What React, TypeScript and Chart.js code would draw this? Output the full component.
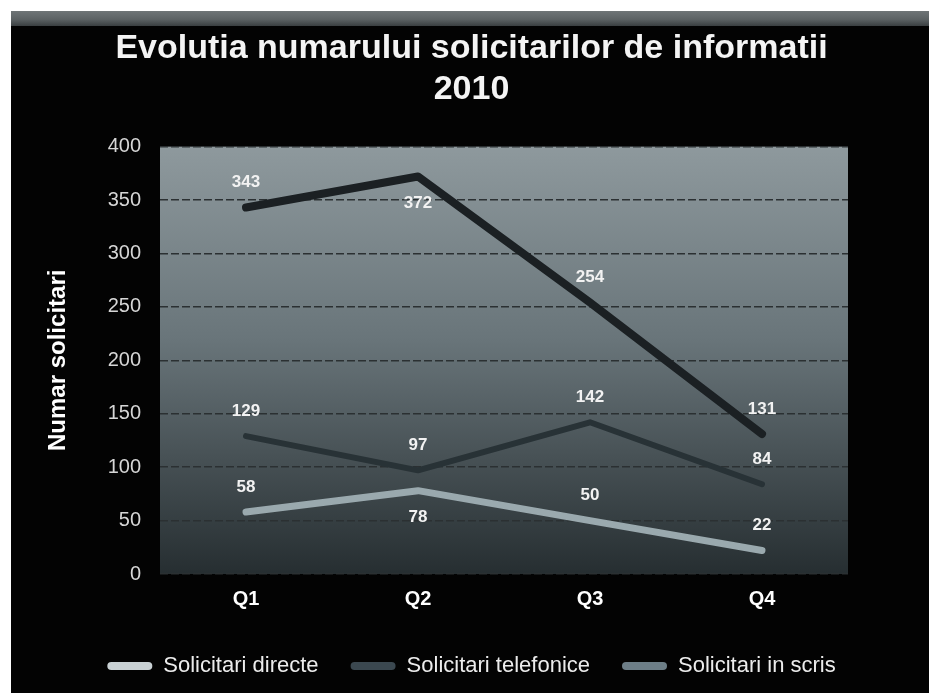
import React, { useEffect, useRef } from 'react';
import { Chart, registerables } from 'chart.js';

Chart.register(...registerables);

const FAMILY = '"Liberation Sans", Arial, Helvetica, sans-serif';

const categories = ['Q1', 'Q2', 'Q3', 'Q4'];
const seriesNames = ['Solicitari directe', 'Solicitari telefonice', 'Solicitari in scris'];
const directe = [58, 78, 50, 22];
const telefonice = [343, 372, 254, 131];
const inScris = [129, 97, 142, 84];
const titleLines = ['Evolutia numarului solicitarilor de informatii', '2010'];
const yAxisTitle = 'Numar solicitari';
const yMin = 0;
const yMax = 400;
const yStep = 50;

// where each value label sits relative to its point
const directeLabelPos = ['above', 'below', 'above', 'above'];
const telefoniceLabelPos = ['above', 'below', 'above', 'above'];
const inScrisLabelPos = ['above', 'above', 'above', 'above'];
const labelPositions = [directeLabelPos, telefoniceLabelPos, inScrisLabelPos];

const lineColors = ['#9aa9ae', '#1b2023', '#283236'];
const lineWidths = [7, 8, 6];
const legendSwatch = ['#c9d1d4', '#3b4850', '#6d7e87'];

const bgPlugin = {
  id: 'plotGradient',
  beforeDraw(chart: any) {
    const { ctx, chartArea } = chart;
    if (!chartArea) return;
    const g = ctx.createLinearGradient(0, chartArea.top, 0, chartArea.bottom);
    g.addColorStop(0, '#8e999d');
    g.addColorStop(0.45, '#69757a');
    g.addColorStop(1, '#262e31');
    ctx.save();
    ctx.fillStyle = g;
    ctx.fillRect(chartArea.left, chartArea.top, chartArea.right - chartArea.left, chartArea.bottom - chartArea.top);
    ctx.restore();
  },
};

const valueLabelPlugin = {
  id: 'valueLabels',
  afterDatasetsDraw(chart: any) {
    const ctx = chart.ctx;
    ctx.save();
    ctx.font = 'bold 17px ' + FAMILY;
    ctx.fillStyle = '#f2f2f2';
    ctx.textAlign = 'center';
    ctx.textBaseline = 'middle';
    chart.data.datasets.forEach((ds: any, di: number) => {
      const meta = chart.getDatasetMeta(di);
      meta.data.forEach((pt: any, i: number) => {
        const pos = labelPositions[di][i];
        const dy = pos === 'below' ? 27 : -25;
        ctx.fillText(String(ds.data[i]), pt.x, pt.y + dy);
      });
    });
    ctx.restore();
  },
};

export default function App() {
  const canvasRef = useRef<HTMLCanvasElement | null>(null);

  useEffect(() => {
    if (!canvasRef.current) return;
    const seriesData = [directe, telefonice, inScris];
    const chart = new Chart(canvasRef.current, {
      type: 'line',
      data: {
        labels: categories,
        datasets: seriesNames.map((name, i) => ({
          label: name,
          data: seriesData[i],
          borderColor: lineColors[i],
          backgroundColor: legendSwatch[i],
          borderWidth: lineWidths[i],
          borderCapStyle: 'round',
          borderJoinStyle: 'round',
          pointRadius: 0,
          pointHoverRadius: 0,
          tension: 0,
          fill: false,
          yAxisID: 'y',
        })),
      },
      options: {
        responsive: false,
        animation: false,
        layout: { padding: 0 },
        scales: {
          x: {
            offset: true,
            grid: { display: false, drawTicks: false },
            border: { display: false },
            ticks: { color: '#ffffff', font: { size: 20, weight: 'bold', family: FAMILY }, padding: 13 },
            afterFit: (s: any) => {
              s.height = 49;
            },
          },
          y: {
            min: yMin,
            max: yMax,
            ticks: { stepSize: yStep, color: '#d6d6d6', font: { size: 20, family: FAMILY }, padding: 19 },
            grid: { color: '#2b3032', lineWidth: 1.5, drawTicks: false },
            border: { display: false, dash: [8, 3] },
            title: {
              display: true,
              text: yAxisTitle,
              color: '#ffffff',
              font: { size: 24, weight: 'bold', family: FAMILY },
              padding: { top: 30, bottom: 0 },
            },
            afterFit: (s: any) => {
              s.width = 146;
            },
          },
          yRight: {
            type: 'linear',
            position: 'right',
            display: true,
            grid: { display: false, drawTicks: false },
            border: { display: false },
            ticks: { display: false },
            afterFit: (s: any) => {
              s.width = 81;
            },
          },
        },
        plugins: {
          title: {
            display: true,
            text: titleLines,
            color: '#f4f4f4',
            font: { size: 34, weight: 'bold', family: FAMILY, lineHeight: 1.2 },
            padding: { top: 3, bottom: 37 },
          },
          legend: {
            position: 'bottom',
            labels: {
              color: '#ececec',
              font: { size: 22, family: FAMILY },
              boxWidth: 45,
              boxHeight: 8,
              padding: 32,
              useBorderRadius: true,
              borderRadius: 4,
              generateLabels: (c: any) => {
                const items = (Chart.defaults.plugins.legend.labels as any).generateLabels(c);
                return items.map((it: any, i: number) => ({
                  ...it,
                  fillStyle: legendSwatch[i],
                  strokeStyle: legendSwatch[i],
                  lineWidth: 0,
                }));
              },
            },
          },
          tooltip: { enabled: false },
        },
      } as any,
      plugins: [bgPlugin, valueLabelPlugin],
    });
    return () => chart.destroy();
  }, []);

  return (
    <div
      style={{
        position: 'fixed',
        left: 0,
        top: 0,
        width: 929,
        height: 693,
        overflow: 'hidden',
        background: '#ffffff',
      }}
    >
      <div
        style={{
          position: 'absolute',
          left: 11,
          top: 11,
          width: 918,
          height: 682,
          background: '#030303',
        }}
      />
      <div
        style={{
          position: 'absolute',
          left: 11,
          top: 11,
          width: 918,
          height: 15,
          background: 'linear-gradient(#6f7577 0%, #5c6264 55%, #3a3f41 100%)',
        }}
      />
      <canvas
        ref={canvasRef}
        width={915}
        height={662}
        style={{ position: 'absolute', left: 14, top: 25, width: 915, height: 662 }}
      />
    </div>
  );
}
